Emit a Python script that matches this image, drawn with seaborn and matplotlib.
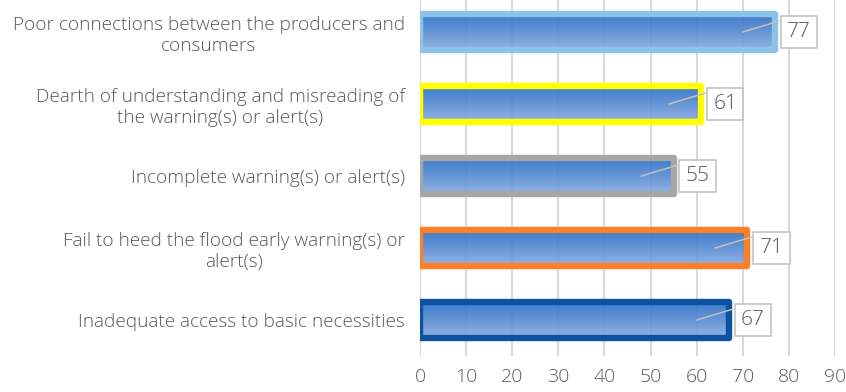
import numpy as np
import matplotlib
matplotlib.use("Agg")
import matplotlib.pyplot as plt
import seaborn as sns
from matplotlib.colors import LinearSegmentedColormap

categories = [
    "Poor connections between the producers and\nconsumers",
    "Dearth of understanding and misreading of\nthe warning(s) or alert(s)",
    "Incomplete warning(s) or alert(s)",
    "Fail to heed the flood early warning(s) or\nalert(s)",
    "Inadequate access to basic necessities",
]
values = [77, 61, 55, 71, 67]
border_colors = ["#8DC3E8", "#FFFF00", "#A6A6A6", "#FF7F27", "#0B52A0"]
x_ticks = list(range(0, 100, 10))

TEXT = "#595959"
GRID = "#D9D9D9"

sns.set_theme(style="white")
plt.rcParams['font.family'] = ['Open Sans', 'DejaVu Sans']

fig = plt.figure(figsize=(8.46, 3.92), dpi=100)
ax = fig.add_axes([420 / 846, 1 - 356 / 392, 415 / 846, 360 / 392])

sns.barplot(x=values, y=categories, orient="h", width=0.5, color="white",
            linewidth=4.6, ax=ax, zorder=3)

# blue vertical gradient inside each bar, border colour per bar
grad = LinearSegmentedColormap.from_list("bar", ["#2B70C6", "#5A8DD3", "#88ADE0"])
g = np.linspace(0, 1, 64).reshape(-1, 1)
for patch, ec in zip(ax.patches, border_colors):
    patch.set_facecolor("none")
    patch.set_edgecolor(ec)
    patch.set_joinstyle("round")
    x0, y0 = patch.get_x(), patch.get_y()
    w, h = patch.get_width(), patch.get_height()
    im = ax.imshow(g, cmap=grad, aspect="auto", origin="upper",
                   extent=(x0, x0 + w, y0 + h, y0), zorder=2, alpha=0.92)
    im.set_clip_path(patch)

# data labels with leader lines
for i, v in enumerate(values):
    ax.plot([v - 7, v + 0.8], [i, i - 0.15], color="#BFBFBF", lw=1.1, zorder=4)
    ax.text(v + 5.2, i, str(v), ha="center", va="center", fontsize=15,
            color=TEXT, zorder=5, fontweight="light",
            bbox=dict(boxstyle="square,pad=0.3", fc="white", ec="#BFBFBF", lw=1.1))

ax.set_xlim(0, 90)
ax.set_ylim(4.5, -0.5)
ax.set_xticks(x_ticks)
ax.set_xlabel("")
ax.set_ylabel("")
ax.grid(axis="x", color=GRID, lw=1.5, zorder=1)
ax.set_axisbelow(True)
for s in ax.spines.values():
    s.set_visible(False)
ax.tick_params(axis="x", length=0, pad=9, labelsize=14, labelcolor=TEXT)
ax.tick_params(axis="y", length=0, pad=11, labelsize=13.7, labelcolor=TEXT)
for lab in ax.get_yticklabels() + ax.get_xticklabels():
    lab.set_fontweight("light")
for lab in ax.get_yticklabels():
    lab.set_multialignment("center")

fig.savefig("out.png", dpi=100)
